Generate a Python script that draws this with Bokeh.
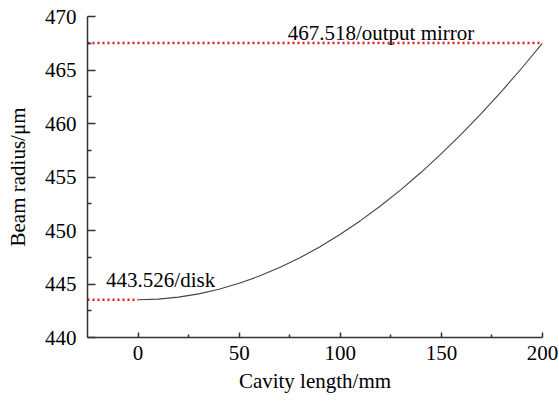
from bokeh.plotting import figure
from bokeh.models import FixedTicker, Label, Range1d
from bokeh.embed import file_html
from bokeh.resources import INLINE

# Data
cavity_mm = [0, 10, 20, 30, 40, 50, 60, 70, 80, 90, 100, 110, 120, 130, 140,
             150, 160, 170, 180, 190, 200]
radius_um = [443.526, 443.588, 443.772, 444.080, 444.511, 445.063, 445.738,
             446.534, 447.451, 448.488, 449.644, 450.918, 452.310, 453.817,
             455.440, 457.176, 459.025, 460.985, 463.055, 465.233, 467.518]
mirror_x = [-25, 200]
mirror_y = [467.518, 467.518]
disk_x = [-25, 0]
disk_y = [443.526, 443.526]
mirror_label = "467.518/output mirror"
disk_label = "443.526/disk"
x_ticks = [0, 50, 100, 150, 200]
x_minor = [25, 75, 125, 175]
y_ticks = [440, 445, 450, 455, 460, 465, 470]
y_minor = [442.5, 447.5, 452.5, 457.5, 462.5, 467.5]

FONT = "Liberation Serif"

p = figure(width=559, height=402, output_backend="svg", toolbar_location=None,
           x_range=Range1d(-25, 200), y_range=Range1d(440, 470),
           min_border_left=87, min_border_right=17, min_border_top=16,
           min_border_bottom=65)
p.outline_line_color = None
p.xgrid.visible = False
p.ygrid.visible = False
p.background_fill_color = "white"
p.border_fill_color = "white"

p.line(cavity_mm, radius_um, line_color="#444444", line_width=1.1)
p.line(mirror_x, mirror_y, line_color="#e8141c", line_width=2.6, line_dash="2 3")
p.line(disk_x, disk_y, line_color="#e8141c", line_width=2.6, line_dash="2 3")

for ax in (p.xaxis[0], p.yaxis[0]):
    ax.axis_line_color = "#333333"
    ax.axis_line_width = 1.5
    ax.major_tick_line_color = "#333333"
    ax.minor_tick_line_color = "#333333"
    ax.major_tick_line_width = 1.5
    ax.minor_tick_line_width = 1.5
    ax.major_tick_out = 0
    ax.minor_tick_out = 0
    ax.major_label_text_font = FONT
    ax.major_label_text_font_size = "21px"
    ax.major_label_text_color = "black"
    ax.axis_label_text_font = FONT
    ax.axis_label_text_font_size = "21px"
    ax.axis_label_text_font_style = "normal"
    ax.axis_label_text_color = "black"

p.xaxis[0].ticker = FixedTicker(ticks=x_ticks, minor_ticks=x_minor)
p.yaxis[0].ticker = FixedTicker(ticks=y_ticks, minor_ticks=y_minor)
p.xaxis[0].major_tick_in = 5
p.xaxis[0].minor_tick_in = 3
p.yaxis[0].major_tick_in = 8
p.yaxis[0].minor_tick_in = 4
p.xaxis[0].major_label_standoff = 8
p.yaxis[0].major_label_standoff = 11
p.xaxis[0].axis_label = "Cavity length/mm"
p.yaxis[0].axis_label = "Beam radius/\u03bcm"
p.xaxis[0].axis_label_standoff = 6
p.yaxis[0].axis_label_standoff = 12

p.add_layout(Label(x=74, y=468.45, text=mirror_label, text_font=FONT,
                   text_font_size="21px", text_color="black",
                   text_baseline="alphabetic"))
p.add_layout(Label(x=-15.8, y=445.42, text=disk_label, text_font=FONT,
                   text_font_size="21px", text_color="black",
                   text_baseline="alphabetic"))

open("out.html", "w").write(file_html(p, INLINE))
